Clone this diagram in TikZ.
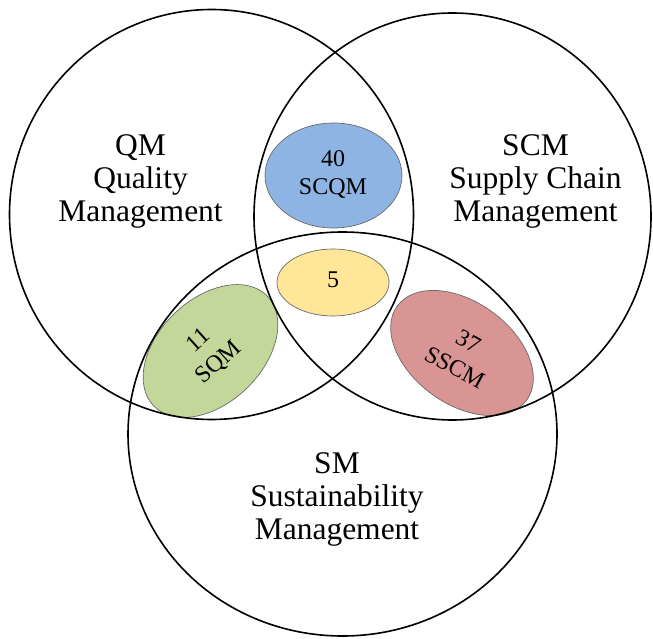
\documentclass[tikz,border=0pt]{standalone}
\usepackage{fontspec}
\setmainfont{Liberation Serif}
\usetikzlibrary{shapes.geometric}
\definecolor{blueF}{HTML}{8EB4E3}
\definecolor{yellowF}{HTML}{FFE699}
\definecolor{greenF}{HTML}{C4D79B}
\definecolor{redF}{HTML}{D99594}
\definecolor{edgeG}{HTML}{6A6A6A}
\tikzset{
  setcircle/.style={draw=black, line width=1.6pt, ellipse, inner sep=0pt},
  blob/.style={draw=edgeG, line width=0.7pt, ellipse, inner sep=0pt},
  biglabel/.style={align=center, font=\fontsize{31.5}{33}\selectfont, inner sep=0pt},
  smalllabel/.style={align=center, font=\fontsize{24}{27.5}\selectfont, inner sep=0pt},
  rotlabel/.style={align=center, font=\fontsize{24}{29}\selectfont, inner sep=0pt}
}
\begin{document}
\begin{tikzpicture}[x=1pt,y=1pt]
\useasboundingbox (0,0) rectangle (653,638);
% coloured overlap regions
\node[blob, fill=blueF, minimum width=137pt, minimum height=105pt] (scqm) at (333.5,462.5) {};
\node[blob, fill=yellowF, minimum width=112pt, minimum height=67pt] (all) at (333,355.5) {};
\node[blob, fill=greenF, minimum width=158pt, minimum height=104pt, rotate=44] (sqm) at (210.5,287) {};
\node[blob, fill=redF, minimum width=160pt, minimum height=102pt, rotate=-36] (sscm) at (462,285) {};
% set circles
\node[setcircle, minimum width=404pt, minimum height=410pt] (qm) at (211.5,423.5) {};
\node[setcircle, minimum width=397pt, minimum height=407pt] (scm) at (452.5,421.5) {};
\node[setcircle, minimum width=429pt, minimum height=404pt] (sm) at (342.5,204) {};
% labels
\node[biglabel] (qmtext) at (140.5,457) {QM\\Quality\\Management};
\node[biglabel] (scmtext) at (535.5,457) {SCM\\Supply Chain\\Management};
\node[biglabel] (smtext) at (337,139) {SM\\Sustainability\\Management};
\node[smalllabel] (scqmtext) at (333,463.5) {40\\SCQM};
\node[smalllabel] (alltext) at (333,358) {5};
\node[rotlabel, rotate=42] (sqmtext) at (209,286) {11\\SQM};
\node[rotlabel, rotate=-28] (sscmtext) at (461.5,283.5) {37\\SSCM};
\end{tikzpicture}
\end{document}
